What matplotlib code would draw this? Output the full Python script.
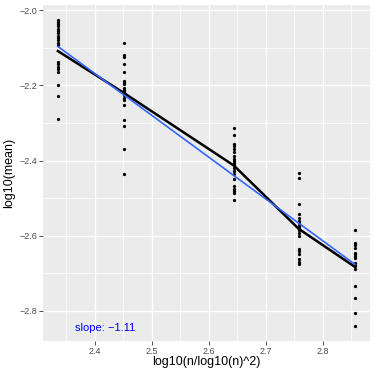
import matplotlib
matplotlib.use('Agg')
import matplotlib.pyplot as plt
import numpy as np
from matplotlib.ticker import MultipleLocator

plt.rcParams['font.family'] = ['Liberation Sans', 'DejaVu Sans']

# x position of each group: log10(n/log10(n)^2)
group_x = [2.335, 2.452, 2.644, 2.758, 2.857]

# log10(mean) values per group
g1 = [-2.026, -2.031, -2.037, -2.042, -2.049, -2.055, -2.059, -2.067, -2.073, -2.079,
      -2.086, -2.091, -2.137, -2.144, -2.151, -2.157, -2.165, -2.200, -2.227, -2.289]
g2 = [-2.088, -2.120, -2.125, -2.144, -2.163, -2.187, -2.191, -2.195, -2.206, -2.211,
      -2.215, -2.219, -2.225, -2.233, -2.239, -2.253, -2.291, -2.307, -2.369, -2.437]
g3 = [-2.313, -2.333, -2.355, -2.362, -2.369, -2.378, -2.387, -2.395, -2.402, -2.406,
      -2.411, -2.419, -2.428, -2.437, -2.449, -2.469, -2.475, -2.482, -2.486, -2.504]
g4 = [-2.433, -2.446, -2.515, -2.542, -2.553, -2.560, -2.566, -2.573, -2.575, -2.579,
      -2.586, -2.593, -2.600, -2.635, -2.642, -2.648, -2.662, -2.669, -2.675]
g5 = [-2.584, -2.619, -2.624, -2.633, -2.645, -2.649, -2.653, -2.659, -2.673, -2.677,
      -2.682, -2.689, -2.735, -2.765, -2.805, -2.840]
groups = [g1, g2, g3, g4, g5]
slope_label = 'slope: \u22121.11'

xs = np.concatenate([[gx] * len(g) for gx, g in zip(group_x, groups)])
ys = np.concatenate(groups)
means = [np.mean(g) for g in groups]

fig = plt.figure(figsize=(3.74, 3.74), dpi=100)
ax = fig.add_axes([0.115, 0.088, 0.874, 0.899])
ax.set_facecolor('#EBEBEB')
for s in ax.spines.values():
    s.set_visible(False)

ax.xaxis.set_major_locator(MultipleLocator(0.1))
ax.xaxis.set_minor_locator(MultipleLocator(0.05))
ax.yaxis.set_major_locator(MultipleLocator(0.2))
ax.yaxis.set_minor_locator(MultipleLocator(0.1))
ax.grid(which='major', color='white', linewidth=1.0)
ax.grid(which='minor', color='white', linewidth=0.5)
ax.set_axisbelow(True)
ax.tick_params(which='major', length=2.75, width=0.6, color='#333333',
               labelsize=6.5, labelcolor='#4D4D4D', pad=1.5)
ax.tick_params(which='minor', length=0)

ax.scatter(xs, ys, s=5.5, color='black', linewidths=0, zorder=3)
ax.plot(group_x, means, color='black', linewidth=1.8, zorder=4)

k, b = np.polyfit(xs, ys, 1)
fx = np.array([min(group_x), max(group_x)])
ax.plot(fx, k * fx + b, color='#3366FF', linewidth=1.2, zorder=5)

ax.margins(0.05)
ax.text(2.418, -2.845, slope_label, color='blue', fontsize=8, ha='center', va='center')

ax.yaxis.set_major_formatter(matplotlib.ticker.FuncFormatter(
    lambda v, p: f'{v:.1f}'.replace('-', '\u2212')))
ax.set_xlabel('log10(n/log10(n)^2)', fontsize=9, labelpad=0)
ax.set_ylabel('log10(mean)', fontsize=9, labelpad=3)

fig.savefig('out.png', dpi=100)
